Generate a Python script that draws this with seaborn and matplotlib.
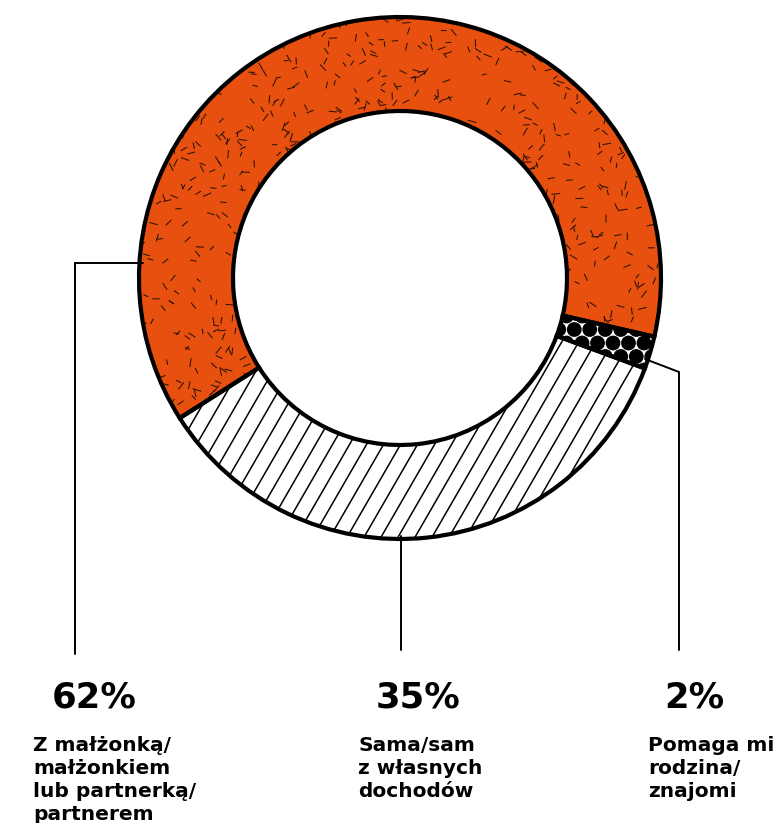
import numpy as np
import matplotlib
matplotlib.use("Agg")
import matplotlib.pyplot as plt
import seaborn as sns
from matplotlib.collections import LineCollection, PatchCollection
from matplotlib.patches import Circle

# Survey shares: how respondents cover their living costs
shares = [62, 35, 2]
pct_labels = ["62%", "35%", "2%"]
desc_labels = [
    ["Z małżonką/", "małżonkiem", "lub partnerką/", "partnerem"],
    ["Sama/sam", "z własnych", "dochodów"],
    ["Pomaga mi", "rodzina/", "znajomi"],
]

sns.set_theme(style="white")
plt.rcParams["font.family"] = ["DejaVu Sans"]

W, H = 774, 823
fig = plt.figure(figsize=(W / 100, H / 100), dpi=100)
ax = fig.add_axes([0, 0, 1, 1])

cx, cy = 400, H - 278
R_OUT, RING = 261, 94
ORANGE = "#E8500F"
START = -13

wedges, _ = ax.pie(
    shares,
    colors=[ORANGE, "white", "white"],
    startangle=START,
    counterclock=True,
    radius=R_OUT,
    center=(cx, cy),
    wedgeprops=dict(width=RING, linewidth=0, edgecolor="none"),
)
r_in = R_OUT - RING

# grain texture: short dark dashes scattered over the orange ring
rng = np.random.default_rng(11)
n = 620
rr = np.sqrt(rng.uniform(r_in ** 2, R_OUT ** 2, n))
tt = rng.uniform(0, 2 * np.pi, n)
ang = rng.uniform(0, np.pi, n)
ln = rng.uniform(5, 9, n)
px = cx + rr * np.cos(tt)
py = cy + rr * np.sin(tt)
segs = [[(x - l / 2 * np.cos(a), y - l / 2 * np.sin(a)),
         (x + l / 2 * np.cos(a), y + l / 2 * np.sin(a))]
        for x, y, a, l in zip(px, py, ang, ln)]
grain = LineCollection(segs, colors="#2b1206", linewidths=0.75, zorder=2)
ax.add_collection(grain)
grain.set_clip_path(wedges[0])

# diagonal hatching for the second wedge
step = 17
theta = np.deg2rad(60)
hatch = [[(x0, 0), (x0 + H / np.tan(theta), H)]
         for x0 in np.arange(-600, W + 600, step)]
hl = LineCollection(hatch, colors="black", linewidths=1.1, zorder=2)
ax.add_collection(hl)
hl.set_clip_path(wedges[1])

# dense dot pattern for the smallest wedge
dots = []
dx, dy, rd = 15.5, 13.5, 7.4
for j, yy in enumerate(np.arange(cy - 200, cy + 60, dy)):
    off = (dx / 2) * (j % 2)
    for xx in np.arange(520 + off, 700, dx):
        dots.append(Circle((xx, yy), rd))
dc = PatchCollection(dots, facecolor="black", edgecolor="none", zorder=2)
ax.add_collection(dc)
dc.set_clip_path(wedges[2])

# ring outlines on top of the fills
ax.pie(
    shares,
    colors=["none"] * 3,
    startangle=START,
    counterclock=True,
    radius=R_OUT,
    center=(cx, cy),
    wedgeprops=dict(width=RING, linewidth=3.0, edgecolor="black", zorder=3, fill=False),
)
ax.set_xlim(0, W)
ax.set_ylim(0, H)
ax.set_aspect("equal")
ax.axis("off")

# leader lines
lk = dict(color="black", linewidth=1.4, zorder=4, solid_joinstyle="miter")
ax.plot([143, 74.5, 74.5], [H - 262.5, H - 262.5, H - 654], **lk)
ax.plot([401, 401], [H - 536, H - 650], **lk)
ax.plot([645, 679, 679], [H - 359, H - 372, H - 650], **lk)

# percentage figures and descriptions
pct_x = [52, 376, 664]
desc_x = [33, 358, 648]
for p, px_, dx_, lines in zip(pct_labels, pct_x, desc_x, desc_labels):
    ax.text(px_, H - 708, p, fontsize=25.5, fontweight="bold", ha="left",
            va="baseline", color="black")
    for i, line in enumerate(lines):
        ax.text(dx_, H - (751 + 23 * i), line, fontsize=14.5, fontweight="bold",
                ha="left", va="baseline", color="black")

fig.savefig("out.png", dpi=100)
